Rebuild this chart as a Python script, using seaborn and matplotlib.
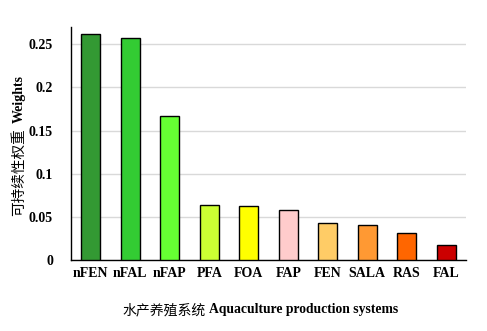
import matplotlib
matplotlib.use("Agg")
import matplotlib.pyplot as plt
import seaborn as sns
import pandas as pd

systems = ["nFEN", "nFAL", "nFAP", "PFA", "FOA", "FAP", "FEN", "SALA", "RAS", "FAL"]
weights = [0.262, 0.257, 0.167, 0.0635, 0.0622, 0.0577, 0.0425, 0.0402, 0.031, 0.017]
bar_colors = ["#339933", "#33CC33", "#66FF33", "#CCFF33", "#FFFF00",
              "#FFCCCC", "#FFCC66", "#FF9933", "#FF6600", "#CC0000"]
y_ticks = [0, 0.05, 0.1, 0.15, 0.2, 0.25]
y_tick_labels = ["0", "0.05", "0.1", "0.15", "0.2", "0.25"]
x_title_cn, x_title_en = "水产养殖系统", "Aquaculture production systems"
y_title_cn, y_title_en = "可持续性权重", "Weights"

W, H = 487, 331
sns.set_theme(style="white")
plt.rcParams["font.family"] = ["Liberation Serif", "Noto Sans CJK SC"]

df = pd.DataFrame({"system": systems, "weight": weights})

fig = plt.figure(figsize=(W / 100, H / 100), dpi=100)
ax = fig.add_axes([71 / W, 1 - 260 / H, (466 - 71) / W, (260 - 27) / H])

sns.barplot(data=df, x="system", y="weight", hue="system", palette=bar_colors,
            saturation=1, legend=False, width=0.48, edgecolor="black",
            linewidth=1.0, ax=ax, zorder=3)

ax.set_xlim(-0.5, len(systems) - 0.5)
ax.set_ylim(0, 0.27)
ax.set_yticks(y_ticks)
ax.set_yticklabels(y_tick_labels)
ax.yaxis.grid(True, color="#d9d9d9", linewidth=1.0, zorder=0)
ax.xaxis.grid(False)

for side in ["top", "right"]:
    ax.spines[side].set_visible(False)
for side in ["left", "bottom"]:
    ax.spines[side].set_visible(True)
    ax.spines[side].set_color("black")
    ax.spines[side].set_linewidth(1.0)

ax.tick_params(axis="both", length=0, labelsize=10)
ax.tick_params(axis="y", pad=13)
ax.tick_params(axis="x", pad=5)
for lbl in ax.get_xticklabels() + ax.get_yticklabels():
    lbl.set_fontweight("bold")
    lbl.set_color("black")
ax.set_xlabel("")
ax.set_ylabel("")

# Axis titles: regular-weight Chinese followed by bold serif English
renderer = fig.canvas.get_renderer()

cn = fig.text(122 / W, 1 - 310 / H, x_title_cn, fontsize=10,
              family="Noto Sans CJK SC", ha="left", va="center", color="black")
bb = cn.get_window_extent(renderer)
fig.text((bb.x1 + 4) / W, 1 - 310 / H, x_title_en, fontsize=9.8,
         family="Liberation Serif", fontweight="bold", ha="left", va="center",
         color="black")

fig.text(19.5 / W, 1 - 172 / H, y_title_cn, fontsize=10.5, rotation=90,
         family="Noto Sans CJK SC", ha="center", va="center", color="black")
fig.text(19.5 / W, 1 - 99 / H, y_title_en, fontsize=10, rotation=90,
         family="Liberation Serif", fontweight="bold", ha="center", va="center",
         color="black")

fig.savefig("out.png", dpi=100, facecolor="white")
